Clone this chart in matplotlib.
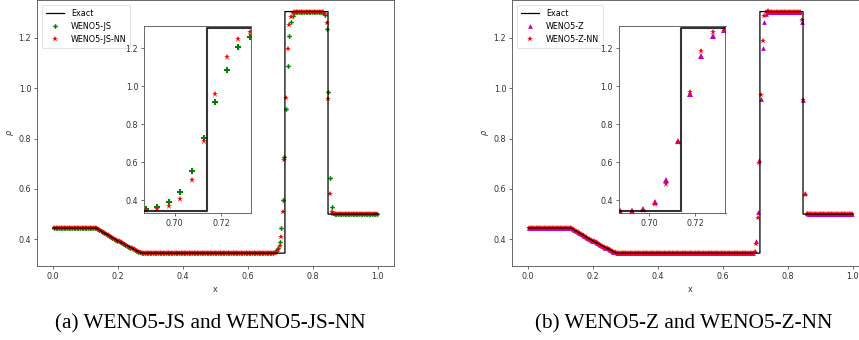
import numpy as np
import matplotlib
matplotlib.use("Agg")
import matplotlib.pyplot as plt

# Lax shock tube, density at t = 0.14 on 200 cells
n_cells = 200
x = (np.arange(n_cells) + 0.5) / n_cells

# exact solution break points
x_exact = [0.0, 0.1313, 0.20, 0.272, 0.7139, 0.7139, 0.8467, 0.8467, 1.0]
rho_exact = [0.445, 0.445, 0.393, 0.345, 0.345, 1.304, 1.304, 0.5, 0.5]

# rarefaction fan cells 25..59
fan_js = [0.4447, 0.4432, 0.4402, 0.4366, 0.4328, 0.4289, 0.4250, 0.4211, 0.4173,
          0.4135, 0.4098, 0.4061, 0.4024, 0.3987, 0.3951, 0.3915, 0.3879, 0.3843,
          0.3808, 0.3773, 0.3738, 0.3704, 0.3670, 0.3636, 0.3603, 0.3570, 0.3538,
          0.3507, 0.3479, 0.3458, 0.3446, 0.3441, 0.3440, 0.3443, 0.3447]
fan_js_nn = [0.4448, 0.4435, 0.4405, 0.4367, 0.4328, 0.4289, 0.4250, 0.4211, 0.4173,
             0.4135, 0.4098, 0.4061, 0.4024, 0.3987, 0.3951, 0.3915, 0.3879, 0.3843,
             0.3808, 0.3773, 0.3738, 0.3704, 0.3670, 0.3636, 0.3603, 0.3570, 0.3537,
             0.3505, 0.3476, 0.3455, 0.3443, 0.3438, 0.3439, 0.3443, 0.3447]
fan_z = [0.4448, 0.4434, 0.4403, 0.4366, 0.4328, 0.4289, 0.4250, 0.4211, 0.4173,
         0.4135, 0.4098, 0.4061, 0.4024, 0.3987, 0.3951, 0.3915, 0.3879, 0.3843,
         0.3808, 0.3773, 0.3738, 0.3704, 0.3670, 0.3636, 0.3603, 0.3570, 0.3537,
         0.3506, 0.3477, 0.3456, 0.3444, 0.3439, 0.3439, 0.3443, 0.3447]
fan_z_nn = [0.4448, 0.4435, 0.4405, 0.4367, 0.4328, 0.4289, 0.4250, 0.4211, 0.4173,
            0.4135, 0.4098, 0.4061, 0.4024, 0.3987, 0.3951, 0.3915, 0.3879, 0.3843,
            0.3808, 0.3773, 0.3738, 0.3704, 0.3670, 0.3636, 0.3603, 0.3570, 0.3537,
            0.3505, 0.3476, 0.3455, 0.3443, 0.3438, 0.3439, 0.3443, 0.3447]

# contact discontinuity cells 133..150
contact_js = [0.3452, 0.3456, 0.3465, 0.3490, 0.353, 0.365, 0.389, 0.444, 0.556,
              0.726, 0.919, 1.088, 1.207, 1.261, 1.287, 1.298, 1.302, 1.304]
contact_js_nn = [0.3450, 0.3452, 0.3458, 0.3470, 0.350, 0.356, 0.372, 0.408, 0.508,
                 0.714, 0.960, 1.156, 1.249, 1.284, 1.298, 1.303, 1.304, 1.304]
contact_z = [0.3450, 0.3450, 0.3450, 0.3450, 0.345, 0.346, 0.355, 0.392, 0.507,
             0.714, 0.957, 1.159, 1.263, 1.296, 1.303, 1.304, 1.304, 1.304]
contact_z_nn = [0.3450, 0.3450, 0.3450, 0.3450, 0.345, 0.345, 0.350, 0.382, 0.484,
                0.704, 0.971, 1.186, 1.286, 1.303, 1.305, 1.304, 1.304, 1.304]

# shock cells 165..173
shock_js = [1.303, 1.300, 1.289, 1.233, 0.983, 0.645, 0.530, 0.505, 0.501]
shock_js_nn = [1.304, 1.303, 1.296, 1.260, 0.957, 0.578, 0.507, 0.501, 0.500]
shock_z = [1.304, 1.304, 1.301, 1.262, 0.953, 0.585, 0.503, 0.500, 0.500]
shock_z_nn = [1.304, 1.304, 1.302, 1.272, 0.953, 0.576, 0.501, 0.500, 0.500]


def assemble(fan, contact, shock):
    return np.array([0.445] * 25 + fan + [0.345] * 73 + contact
                    + [1.304] * 14 + shock + [0.5] * 26)


rho_js = assemble(fan_js, contact_js, shock_js)
rho_js_nn = assemble(fan_js_nn, contact_js_nn, shock_js_nn)
rho_z = assemble(fan_z, contact_z, shock_z)
rho_z_nn = assemble(fan_z_nn, contact_z_nn, shock_z_nn)

panels = [
    (rho_js, 'WENO5-JS', 'g', 'P', 3.3, '(a) WENO5-JS and WENO5-JS-NN'),
    (rho_z, 'WENO5-Z', 'm', '^', 3.4, '(b) WENO5-Z and WENO5-Z-NN'),
]
nn_runs = [(rho_js_nn, 'WENO5-JS-NN'), (rho_z_nn, 'WENO5-Z-NN')]

W, H = 859, 340
fig = plt.figure(figsize=(W / 100, H / 100), dpi=100)
fs = 5.8
tick_col = '#333333'
spine_col = '#505050'


def style(ax):
    for s in ax.spines.values():
        s.set_linewidth(0.6)
        s.set_color(spine_col)
    ax.tick_params(labelsize=fs, colors=tick_col, width=0.5, length=2.2, pad=2)


main_left = [37, 512]
inset_left = [144, 618.5]
cap_x = [210, 684]

for k in range(2):
    rho, name, col, mk, ms, cap = panels[k]
    rho_nn, name_nn = nn_runs[k]

    ax = fig.add_axes([main_left[k] / W, (H - 266) / H, 357 / W, 266 / H])
    ax.plot(x_exact, rho_exact, color='k', lw=0.9, label='Exact', zorder=3)
    ax.plot(x, rho, ls='none', marker=mk, ms=ms, color=col, mew=0, label=name)
    ax.plot(x, rho_nn, ls='none', marker='*', ms=4.2, color='r', mew=0, label=name_nn)
    ax.set_xlim(-0.05, 1.05)
    ax.set_ylim(0.294, 1.350)
    ax.set_xticks([0.0, 0.2, 0.4, 0.6, 0.8, 1.0])
    ax.set_yticks([0.4, 0.6, 0.8, 1.0, 1.2])
    ax.set_xlabel('x', fontsize=fs, color=tick_col, labelpad=3)
    ax.set_ylabel(r'$\rho$', fontsize=fs, color=tick_col, labelpad=2)
    style(ax)
    leg = ax.legend(loc='upper left', fontsize=fs, borderaxespad=0.6,
                    handletextpad=0.9, labelspacing=0.5, borderpad=0.5,
                    handlelength=2.2)
    leg.get_frame().set_linewidth(0.5)

    axin = fig.add_axes([inset_left[k] / W, (H - 213) / H, 107 / W, 187 / H])
    axin.plot(x_exact, rho_exact, color='k', lw=1.5, zorder=3, alpha=0.8)
    axin.plot(x, rho, ls='none', marker=mk, ms=ms + 0.6, color=col, mew=0)
    axin.plot(x, rho_nn, ls='none', marker='*', ms=4.6, color='r', mew=0)
    axin.set_xlim(0.6868, 0.7330)
    axin.set_ylim(0.333, 1.317)
    axin.set_xticks([0.70, 0.72])
    axin.set_yticks([0.4, 0.6, 0.8, 1.0, 1.2])
    style(axin)

    fig.text(cap_x[k] / W, 1 - 324 / H, cap, ha='center', va='center',
             family='Liberation Serif', fontsize=15.3)

fig.savefig('out.png', dpi=100)
